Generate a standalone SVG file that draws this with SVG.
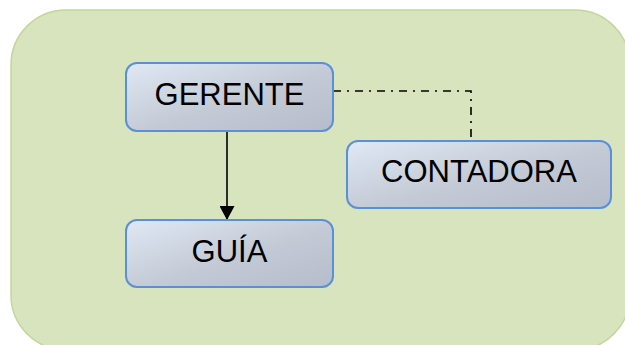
<svg xmlns="http://www.w3.org/2000/svg" width="625" height="345" viewBox="0 0 625 345">
  <defs>
    <linearGradient id="boxGrad" x1="0" y1="0" x2="1" y2="1">
      <stop offset="0" stop-color="#dfe8f4"/>
      <stop offset="0.55" stop-color="#c3cad6"/>
      <stop offset="1" stop-color="#b6bdca"/>
    </linearGradient>
    <marker id="arrow" markerWidth="15" markerHeight="15" refX="14" refY="7.5" orient="auto" markerUnits="userSpaceOnUse">
      <path d="M0,0 L14,7.5 L0,15 Z" fill="#000"/>
    </marker>
    <style>
      .box { fill: url(#boxGrad); stroke: #5b8fd8; stroke-width: 2; }
      .lbl { font-family: "Liberation Sans", Arial, sans-serif; font-size: 31px; fill: #000; text-anchor: middle; }
      .conn { fill: none; stroke: #000; stroke-width: 1.6; }
    </style>
  </defs>
  <rect x="0" y="0" width="625" height="345" fill="#ffffff"/>
  <rect id="background" x="11" y="10" width="619" height="340" rx="55" ry="55" fill="#d7e4bd" stroke="#c3d69b" stroke-width="1.5"/>
  <g id="connectors">
    <line class="conn" x1="227" y1="131" x2="227" y2="220" marker-end="url(#arrow)"/>
    <path class="conn" d="M333,91 H471 V141" stroke-dasharray="8 6 2 6"/>
  </g>
  <g id="gerente">
    <rect class="box" x="126" y="63" width="207" height="68" rx="11" ry="11"/>
    <text class="lbl" x="229.5" y="105">GERENTE</text>
  </g>
  <g id="contadora">
    <rect class="box" x="347" y="141" width="264" height="67" rx="11" ry="11"/>
    <text class="lbl" x="479" y="182">CONTADORA</text>
  </g>
  <g id="guia">
    <rect class="box" x="126" y="220" width="207" height="67" rx="11" ry="11"/>
    <text class="lbl" x="229.5" y="262">GUÍA</text>
  </g>
</svg>
